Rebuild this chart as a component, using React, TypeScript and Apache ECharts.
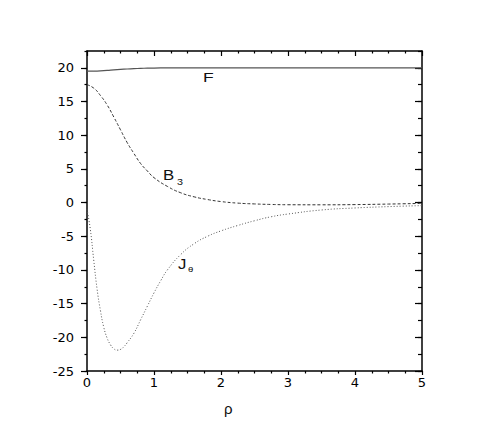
import React, { useEffect, useRef } from "react";
import * as echarts from "echarts";

const rho = [0, 0.1, 0.2, 0.3, 0.4, 0.5, 0.6, 0.7, 0.8, 0.9, 1.0, 1.2, 1.4, 1.6, 1.8, 2.0, 2.25, 2.5, 2.75, 3.0, 3.5, 4.0, 4.5, 5.0];
const fValues = [19.5, 19.52, 19.56, 19.62, 19.7, 19.77, 19.83, 19.88, 19.92, 19.95, 19.97, 19.99, 20.0, 20.0, 20.0, 20.0, 20.0, 20.0, 20.0, 20.0, 20.0, 20.0, 20.0, 20.0];
const b3Values = [17.5, 17.0, 15.9, 14.5, 12.7, 10.8, 8.9, 7.3, 5.8, 4.7, 3.7, 2.4, 1.45, 0.85, 0.45, 0.15, -0.08, -0.2, -0.28, -0.32, -0.33, -0.3, -0.22, -0.12];

const rhoJ = [0, 0.05, 0.1, 0.15, 0.2, 0.25, 0.3, 0.35, 0.4, 0.45, 0.5, 0.55, 0.6, 0.7, 0.8, 0.9, 1.0, 1.1, 1.2, 1.4, 1.6, 1.8, 2.0, 2.25, 2.5, 2.75, 3.0, 3.5, 4.0, 4.5, 5.0];
const jValues = [-1.0, -4.0, -8.5, -12.8, -16.0, -18.5, -20.1, -21.1, -21.7, -21.9, -21.8, -21.4, -20.8, -19.4, -17.4, -15.4, -13.4, -11.6, -10.0, -7.7, -6.1, -5.0, -4.2, -3.4, -2.7, -2.1, -1.7, -1.1, -0.8, -0.6, -0.45];

const yMajorTicks = [-25, -20, -15, -10, -5, 0, 5, 10, 15, 20];
const xTicks = [0, 1, 2, 3, 4, 5];

const FONT = "Liberation Sans";
const TICK_FONT = "DejaVu Sans";

export default function App() {
  const ref = useRef<HTMLDivElement>(null);
  useEffect(() => {
    if (!ref.current) return;
    document.body.style.margin = "0";
    const chart = echarts.init(ref.current, undefined, { renderer: "svg" });
    const line = { color: "#000", width: 1.5 };
    const yBase = { type: "value", min: -25, max: 22.5, splitLine: { show: false } };
    const xBase = { type: "value", min: 0, max: 5, interval: 1, splitLine: { show: false } };
    const txt = (text: string, x: number, y: number, size: number, sx: number) => ({
      type: "text",
      x,
      y,
      scaleX: sx,
      style: { text, x: 0, y: 0, font: `${size}px "${FONT}"`, fill: "#111", verticalAlign: "top", align: "left" },
    });
    chart.setOption({
      animation: false,
      backgroundColor: "#fff",
      grid: { left: 87, right: 69, top: 51, bottom: 72, containLabel: false },
      xAxis: [
        {
          ...xBase,
          position: "bottom",
          axisLine: { onZero: false, lineStyle: line },
          axisTick: { show: true, length: 4, inside: false, lineStyle: { color: "#000", width: 1.2 } },
          minorTick: { show: true, splitNumber: 4, length: 2.5, lineStyle: { color: "#000", width: 1.2 } },
          axisLabel: {
            show: true,
            margin: 5,
            fontFamily: TICK_FONT,
            fontSize: 13,
            color: "#000",
            customValues: xTicks,
          },
        },
        {
          ...xBase,
          position: "top",
          axisLine: { onZero: false, lineStyle: line },
          axisTick: { show: true, length: 5, inside: true, lineStyle: { color: "#000", width: 1.2 } },
          minorTick: { show: true, splitNumber: 4, length: 2.5, lineStyle: { color: "#000", width: 1.2 } },
          axisLabel: { show: false },
        },
      ],
      yAxis: [
        {
          ...yBase,
          position: "left",
          interval: 2.5,
          axisLine: { onZero: false, lineStyle: line },
          axisTick: { show: true, length: 2.5, inside: false, lineStyle: { color: "#000", width: 1.2 } },
          axisLabel: {
            show: true,
            margin: 13,
            fontFamily: TICK_FONT,
            fontSize: 13,
            color: "#000",
            formatter: (v: number) => (Math.abs(v % 5) < 1e-9 && v <= 20 ? String(v) : ""),
          },
        },
        {
          ...yBase,
          position: "left",
          interval: 5,
          axisLine: { show: false, onZero: false },
          axisTick: { show: true, length: 6, inside: false, customValues: yMajorTicks, lineStyle: { color: "#000", width: 1.2 } },
          axisLabel: { show: false },
        },
        {
          ...yBase,
          position: "right",
          interval: 2.5,
          axisLine: { onZero: false, lineStyle: line },
          axisTick: { show: true, length: 4, inside: true, lineStyle: { color: "#000", width: 1.2 } },
          axisLabel: { show: false },
        },
        {
          ...yBase,
          position: "right",
          interval: 5,
          axisLine: { show: false, onZero: false },
          axisTick: { show: true, length: 7, inside: true, customValues: yMajorTicks, lineStyle: { color: "#000", width: 1.2 } },
          axisLabel: { show: false },
        },
      ],
      series: [
        {
          name: "F",
          type: "line",
          xAxisIndex: 0,
          yAxisIndex: 0,
          data: rho.map((x, i) => [x, fValues[i]]),
          showSymbol: false,
          smooth: true,
          lineStyle: { color: "#555", width: 1.2, type: "solid" },
        },
        {
          name: "B3",
          type: "line",
          xAxisIndex: 0,
          yAxisIndex: 0,
          data: rho.map((x, i) => [x, b3Values[i]]),
          showSymbol: false,
          smooth: true,
          lineStyle: { color: "#333", width: 1, type: [3, 2] },
        },
        {
          name: "Jtheta",
          type: "line",
          xAxisIndex: 0,
          yAxisIndex: 0,
          data: rhoJ.map((x, i) => [x, jValues[i]]),
          showSymbol: false,
          smooth: true,
          lineStyle: { color: "#555", width: 1, type: [1, 2] },
        },
      ],
      graphic: [
        txt("F", 203, 71, 13, 1.35),
        txt("B", 163, 168, 14, 1.2),
        txt("3", 177, 177, 9, 1.2),
        txt("J", 178, 257, 14, 1.2),
        txt("θ", 188, 265, 8, 1.2),
        txt("ρ", 224, 401, 15, 1.0),
      ],
    });
    return () => chart.dispose();
  }, []);
  return <div ref={ref} style={{ width: 491, height: 443 }} />;
}
